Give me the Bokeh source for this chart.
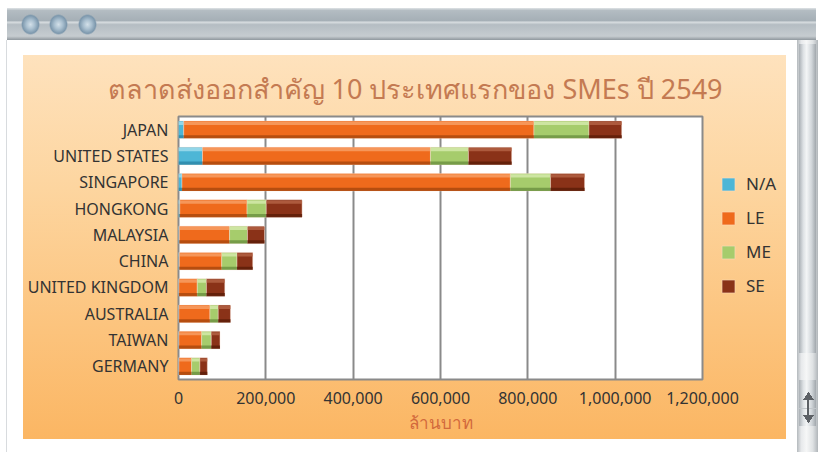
from bokeh.plotting import figure
from bokeh.models import (FactorRange, Range1d, NumeralTickFormatter, FixedTicker,
                          ColumnDataSource, Legend, LegendItem, InlineStyleSheet)
from bokeh.transform import dodge
from bokeh.embed import file_html
from bokeh.resources import INLINE

# ---------------- data ----------------
countries = ["JAPAN", "UNITED STATES", "SINGAPORE", "HONGKONG", "MALAYSIA",
             "CHINA", "UNITED KINGDOM", "AUSTRALIA", "TAIWAN", "GERMANY"]
na = [12000, 55000, 8000, 3000, 2000, 2000, 1000, 1000, 1000, 1000]
le = [802000, 522000, 752000, 154000, 115000, 97000, 42000, 71000, 52000, 29000]
me = [126000, 87000, 92000, 44000, 41000, 35000, 21000, 19000, 22000, 19000]
se = [75000, 99000, 78000, 82000, 39000, 36000, 42000, 28000, 20000, 17000]
series = ["N/A", "LE", "ME", "SE"]
x_ticks = [0, 200000, 400000, 600000, 800000, 1000000, 1200000]
title_text = "ตลาดส่งออกสำคัญ 10 ประเทศแรกของ SMEs ปี 2549"
x_label = "ล้านบาท"

colors = ["#4db6d6", "#ef6a1c", "#a6cc6c", "#8a3218"]
light = ["#a9e0ef", "#f8a56e", "#d9edb3", "#b8684a"]
dark = ["#2a86a6", "#a8460c", "#6a9040", "#5a1c08"]

FONT = "Noto Sans"
source = ColumnDataSource(dict(country=countries, na=na, le=le, me=me, se=se))
keys = ["na", "le", "me", "se"]

# ---------------- window chrome via CSS background layers ----------------
def circle(x):
    return ("radial-gradient(ellipse closest-side at 50% 50%, #d3e0e9 0%, #a9bfcf 45%, "
            "#7d98ad 85%, rgba(125,152,173,0) 100%) " + "%dpx 14px / 19px 21px no-repeat" % x)

def tri(grad, x, y, w, h):
    return ("linear-gradient(" + grad + ", rgba(0,0,0,0) 50%, #5d6166 50%) "
            + "%dpx %dpx / %dpx %dpx no-repeat" % (x, y, w, h))

layers = [
    circle(21), circle(49), circle(78),
    # title bar
    "linear-gradient(to bottom, #dfe3e6 0%, #b3bcc2 8%, #a5afb6 40%, #d9dee1 44%, "
    "#b5bdc3 52%, #c6ccd0 88%, #8f979d 100%) 7px 8px / 809px 32px no-repeat",
    # scrollbar arrows
    tri("to bottom right", 803, 391, 6, 9), tri("to bottom left", 808, 391, 6, 9),
    tri("to top right", 803, 415, 6, 9), tri("to top left", 808, 415, 6, 9),
    "linear-gradient(#5d6166, #5d6166) 807px 398px / 2px 20px no-repeat",
    "linear-gradient(#c2c7cb, #c2c7cb) 799px 408px / 17px 1px no-repeat",
    # scrollbar pieces
    "linear-gradient(to right, #a9afb4 0%, #dde1e4 25%, #f3f5f6 45%, #d0d5d9 75%, "
    "#a1a7ac 100%) 799px 380px / 17px 46px no-repeat",
    "linear-gradient(to right, #a9afb4 0%, #dde1e4 25%, #f3f5f6 45%, #d0d5d9 75%, "
    "#a1a7ac 100%) 799px 44px / 17px 309px no-repeat",
    "linear-gradient(to right, #b4b9bd 0%, #e7e9eb 20%, #f6f7f7 45%, #dfe2e4 75%, "
    "#b1b6ba 100%) 797px 40px / 21px 412px no-repeat",
    # orange panel
    "linear-gradient(to bottom, #fee2bd 0%, #fdd59f 35%, #fcc47e 70%, #fbb663 100%) "
    "23px 55px / 763px 384px no-repeat",
    # window left border
    "linear-gradient(#d8dbde, #d8dbde) 6px 40px / 1px 412px no-repeat",
    "#ffffff",
]
css = ":host { background: " + ",\n ".join(layers) + "; }"

p = figure(frame_width=524, frame_height=263, y_range=FactorRange(*countries[::-1]),
           x_range=Range1d(0, 1200000), output_backend="svg", toolbar_location=None,
           min_border_left=178, min_border_right=116, min_border_top=116,
           min_border_bottom=73, title=title_text)
p.stylesheets = [InlineStyleSheet(css=css)]
p.border_fill_alpha = 0
p.background_fill_color = "white"
p.outline_line_color = "#8a8a8a"
p.outline_line_width = 2

# ---------------- bars ----------------
main = p.hbar_stack(keys, y="country", height=0.66, color=colors, source=source,
                    line_color="#fbe3d3", line_width=0.6, line_alpha=0.7)
p.hbar_stack(keys, y=dodge("country", 0.24, range=p.y_range), height=0.12,
             color=light, source=source, line_color=None, fill_alpha=0.75)
p.hbar_stack(keys, y=dodge("country", -0.27, range=p.y_range), height=0.12,
             color=dark, source=source, line_color=None, fill_alpha=0.8)

# ---------------- axes / grid ----------------
p.xgrid.grid_line_color = "#8a8a8a"
p.xgrid.grid_line_width = 2
p.ygrid.grid_line_color = None
p.xaxis.ticker = FixedTicker(ticks=x_ticks)
p.xaxis.formatter = NumeralTickFormatter(format="0,0")
for ax in (p.xaxis[0], p.yaxis[0]):
    ax.axis_line_color = None
    ax.major_tick_line_color = None
    ax.minor_tick_line_color = None
    ax.major_label_text_font = FONT
    ax.major_label_text_color = "#333333"
p.xaxis.major_label_text_font_size = "16px"
p.xaxis.major_label_standoff = 6
p.yaxis.major_label_text_font_size = "16px"
p.yaxis.major_label_standoff = 4
p.xaxis.axis_label = x_label
p.xaxis.axis_label_text_font = FONT
p.xaxis.axis_label_text_font_size = "17px"
p.xaxis.axis_label_text_font_style = "normal"
p.xaxis.axis_label_text_color = "#d2693c"
p.xaxis.axis_label_standoff = 4

p.title.text_font = FONT
p.title.text_font_size = "27px"
p.title.text_font_style = "normal"
p.title.text_color = "#c47a52"
p.title.align = "left"
p.title.offset = -71
p.title.standoff = 20

lg = Legend(items=[LegendItem(label=s, renderers=[r]) for s, r in zip(series, main)],
            location=(18, 82))
lg.glyph_width = 16
lg.glyph_height = 16
lg.label_height = 16
lg.spacing = 11
lg.padding = 0
lg.margin = 0
lg.label_standoff = 10
lg.label_text_font = FONT
lg.label_text_font_size = "17px"
lg.label_text_color = "#333333"
lg.background_fill_alpha = 0
lg.border_line_color = None
p.add_layout(lg, "right")

open("out.html", "w").write(file_html(p, INLINE))
